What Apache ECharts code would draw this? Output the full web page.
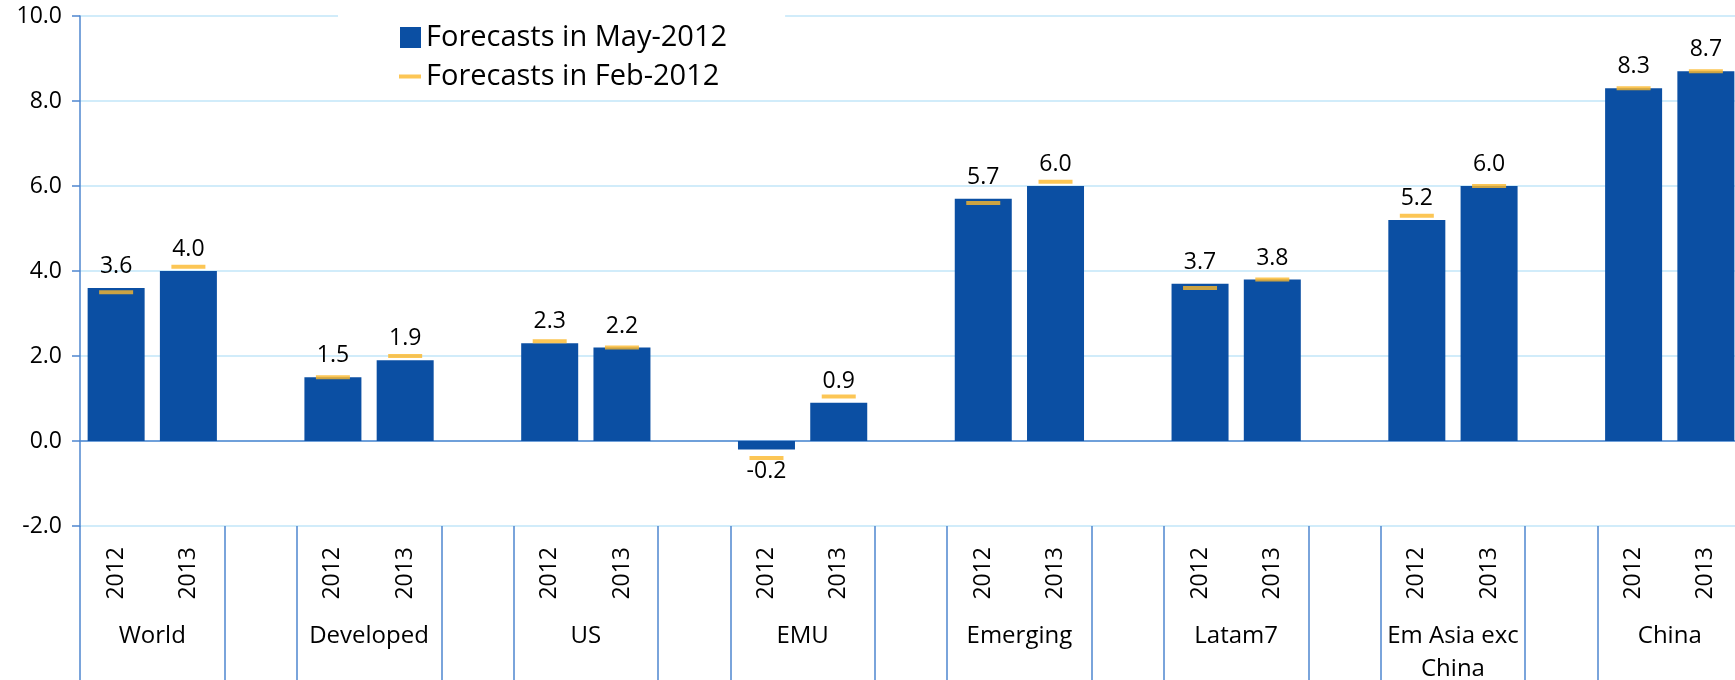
<!DOCTYPE html>
<html>
<head>
<meta charset="utf-8">
<title>GDP growth forecasts</title>
<script src="https://cdn.jsdelivr.net/npm/echarts@6.0.0/dist/echarts.min.js"></script>
<style>
    html, body { margin: 0; padding: 0; background: #fff; }
    #main { width: 1735px; height: 680px; }
</style>
</head>
<body>
<div id="main"></div>
<script>
// data
var groups = ['World', 'Developed', 'US', 'EMU', 'Emerging', 'Latam7', 'Em Asia exc\nChina', 'China'];
var years = ['2012', '2013'];
var mayForecast = [3.6, 4.0, 1.5, 1.9, 2.3, 2.2, -0.2, 0.9, 5.7, 6.0, 3.7, 3.8, 5.2, 6.0, 8.3, 8.7];
var febForecast = [3.5, 4.1, 1.5, 2.0, 2.35, 2.2, -0.4, 1.05, 5.6, 6.1, 3.6, 3.8, 5.3, 6.0, 8.3, 8.7];
var yMin = -2, yMax = 10, yStep = 2;

var fontName = 'Open Sans';
var axisBlue = '#4f87cf';
var textColor = '#000';

// every group takes 2 slots, with one empty slot between groups
var slotLabels = [];
var barData = [];
var febData = [];
var groupCenters = [];
var separators = [-0.5];
groups.forEach(function (g, gi) {
    years.forEach(function (y, yi) {
        var slot = slotLabels.length;
        var i = gi * years.length + yi;
        var v = mayForecast[i];
        slotLabels.push(y);
        barData.push({ value: [slot, v], label: { position: v < 0 ? 'bottom' : 'top' } });
        febData.push([slot, febForecast[i]]);
    });
    groupCenters.push(slotLabels.length - 1.5);
    separators.push(slotLabels.length - 0.5);
    if (gi < groups.length - 1) {
        slotLabels.push('');
        separators.push(slotLabels.length - 0.5);
    }
});
var lastEdge = slotLabels.length - 0.5;

var myChart = echarts.init(document.getElementById('main'));

var option = {
    animation: false,
    grid: { left: 80, right: -7, top: 16, bottom: 154, containLabel: false, outerBoundsMode: 'none' },
    legend: [
        {
            data: ['Forecasts in May-2012'],
            left: 338, top: 10,
            padding: [13, 58, 44, 62],
            backgroundColor: '#fff',
            icon: 'rect', itemWidth: 21, itemHeight: 21,
            textStyle: { fontFamily: fontName, fontSize: 29, color: textColor }
        },
        {
            data: ['Forecasts in Feb-2012'],
            left: 399, top: 62, padding: 0, z: 5,
            icon: 'rect', itemWidth: 22, itemHeight: 4,
            textStyle: { fontFamily: fontName, fontSize: 29, color: textColor }
        }
    ],
    xAxis: [
        {
            // axis line through zero, bars sit on it
            type: 'category',
            data: slotLabels,
            axisLine: { onZero: true, lineStyle: { color: axisBlue, width: 1.5 } },
            axisTick: { interval: 0, length: 7, lineStyle: { color: axisBlue, width: 1.5 } },
            axisLabel: { show: false }
        },
        {
            // year labels under the plot
            type: 'category',
            data: slotLabels,
            position: 'bottom',
            axisLine: { show: false, onZero: false },
            axisTick: { interval: 0, length: 71, lineStyle: { color: axisBlue, width: 1.5 } },
            axisLabel: {
                interval: 0, rotate: 90, margin: 21,
                fontFamily: fontName, fontSize: 23, color: textColor
            }
        },
        {
            // group names and long separators
            type: 'value',
            min: -0.5, max: lastEdge,
            position: 'bottom',
            axisLine: { show: false, onZero: false },
            splitLine: { show: false },
            axisTick: {
                customValues: separators.concat([lastEdge]),
                length: 154,
                lineStyle: { color: axisBlue, width: 1.5 }
            },
            axisLabel: {
                customValues: groupCenters,
                margin: 94,
                lineHeight: 33,
                fontFamily: fontName, fontSize: 24, color: textColor,
                formatter: function (v) {
                    var idx = groupCenters.indexOf(v);
                    return idx >= 0 ? groups[idx] : '';
                }
            }
        }
    ],
    yAxis: {
        type: 'value',
        min: yMin, max: yMax, interval: yStep,
        axisLine: { show: true, onZero: false, lineStyle: { color: axisBlue, width: 1.5 } },
        axisTick: { show: true, length: 8, lineStyle: { color: axisBlue, width: 1.5 } },
        splitLine: { lineStyle: { color: '#c2e6f8', width: 1.5 } },
        axisLabel: {
            margin: 18,
            fontFamily: fontName, fontSize: 23, color: textColor,
            formatter: function (v) { return v.toFixed(1); }
        }
    },
    series: [
        {
            name: 'Forecasts in May-2012',
            type: 'bar',
            xAxisIndex: 0,
            barWidth: 57,
            itemStyle: { color: '#0b4fa3' },
            label: {
                show: true,
                distance: 10,
                fontFamily: fontName, fontSize: 23, color: textColor,
                formatter: function (p) { return p.value[1].toFixed(1); }
            },
            data: barData
        },
        {
            name: 'Forecasts in Feb-2012',
            type: 'scatter',
            xAxisIndex: 0,
            symbol: 'rect',
            symbolSize: [34, 4],
            itemStyle: { color: '#fbb82a' },
            data: febData
        }
    ]
};

myChart.setOption(option);
</script>
</body>
</html>
